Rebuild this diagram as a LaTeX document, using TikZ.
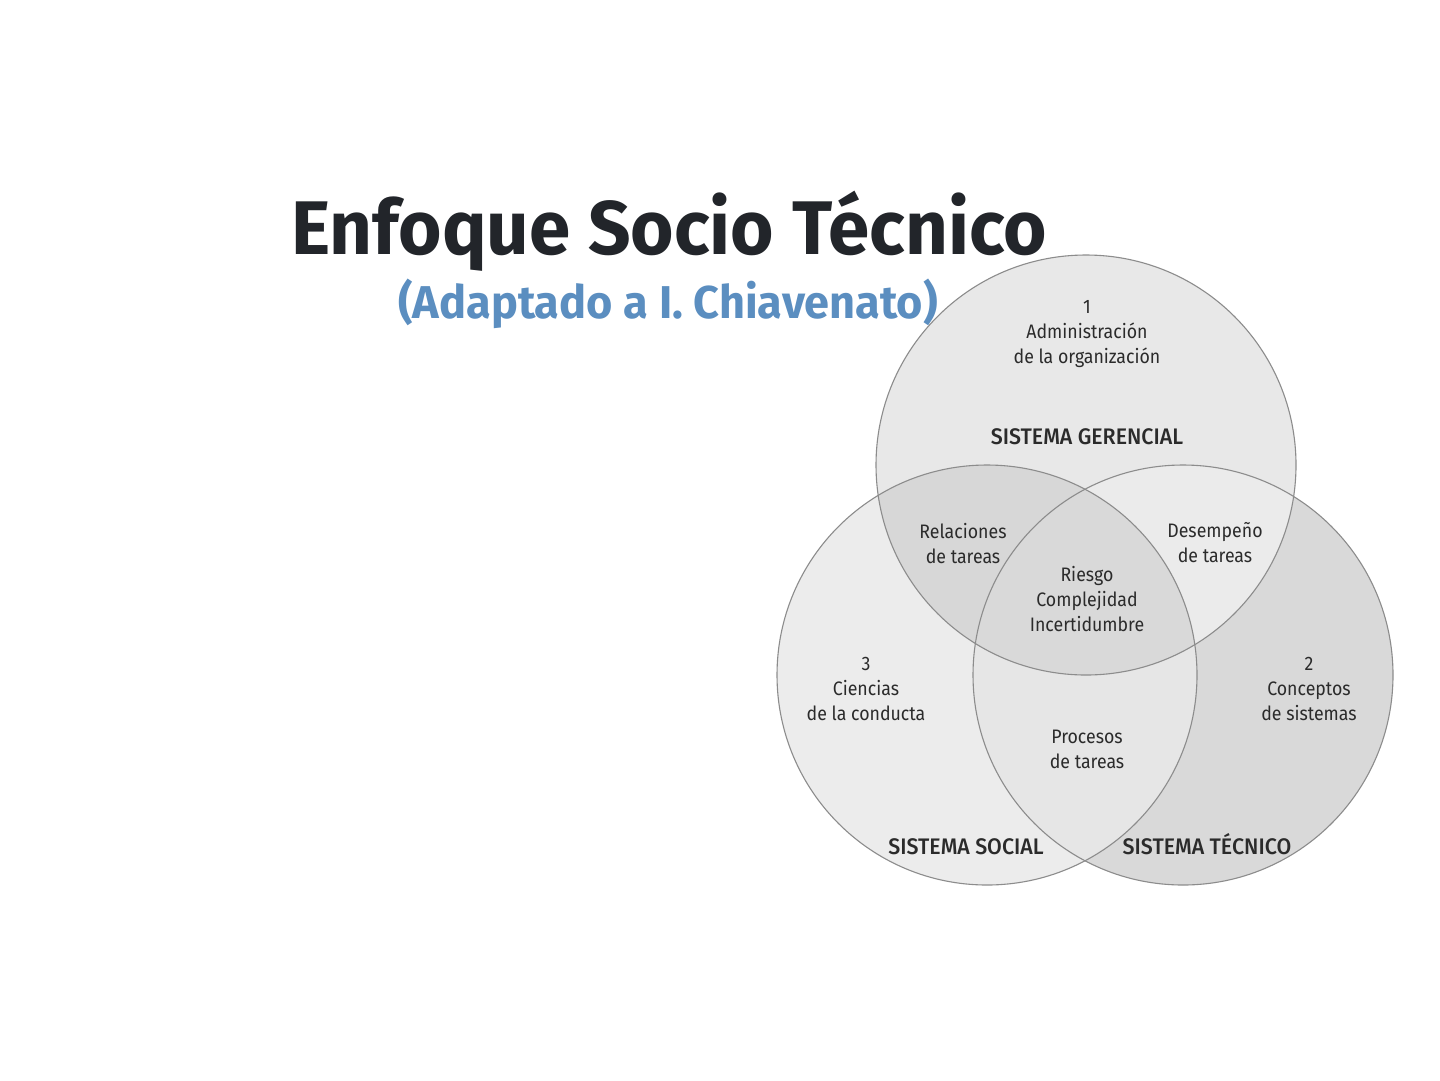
\documentclass[tikz,border=0pt]{standalone}
\usepackage{fontspec}
\setmainfont{Fira Sans}
\newfontfamily\diafont[FakeStretch=0.91]{Fira Sans}
\newfontfamily\capfont[FakeStretch=0.95]{Fira Sans Medium}
\newfontfamily\titlefont[FakeStretch=0.98]{Fira Sans Bold}
\definecolor{ringline}{HTML}{8C8C8C}
\definecolor{topc}{HTML}{E8E8E8}
\definecolor{leftc}{HTML}{ECECEC}
\definecolor{rightc}{HTML}{D9D9D9}
\definecolor{tlc}{HTML}{D7D7D7}
\definecolor{trc}{HTML}{EBEBEB}
\definecolor{lrc}{HTML}{E6E6E6}
\definecolor{allc}{HTML}{D9D9D9}
\definecolor{txt}{HTML}{2B2B2B}
\definecolor{titlec}{HTML}{22252A}
\definecolor{subc}{HTML}{5B8EC0}
\tikzset{
  lbl/.style={font=\diafont\fontsize{19.5}{25}\selectfont, text=txt, align=center, inner sep=0pt},
  caplbl/.style={font=\capfont\fontsize{22.5}{25}\selectfont, text=txt, align=center, inner sep=0pt, anchor=base},
  ring/.style={draw=ringline, line width=1.1pt}
}
\begin{document}
\begin{tikzpicture}[x=1pt,y=-1pt]
\useasboundingbox[fill=white] (0,0) rectangle (1440,1080);
\coordinate (T) at (1086,465);
\coordinate (L) at (987,675);
\coordinate (R) at (1183,675);
% base fills
\fill[rightc] (R) circle[radius=210pt];
\fill[leftc] (L) circle[radius=210pt];
\begin{scope}
  \clip (L) circle[radius=210pt];
  \fill[lrc] (R) circle[radius=210pt];
\end{scope}
\fill[topc] (T) circle[radius=210pt];
\begin{scope}
  \clip (T) circle[radius=210pt];
  \fill[tlc] (L) circle[radius=210pt];
  \fill[trc] (R) circle[radius=210pt];
  \clip (L) circle[radius=210pt];
  \fill[allc] (R) circle[radius=210pt];
\end{scope}
% outlines
\draw[ring] (T) circle[radius=210pt];
\draw[ring] (L) circle[radius=210pt];
\draw[ring] (R) circle[radius=210pt];
% title
\node[font=\titlefont\fontsize{76}{80}\selectfont, text=titlec, inner sep=0pt] (title) at (669,231) {Enfoque Socio Técnico};
\node[font=\titlefont\fontsize{46}{50}\selectfont, text=subc, inner sep=0pt] (subtitle) at (668,304) {(Adaptado a I. Chiavenato)};
% labels
\node[lbl] (admin) at (1087,334) {1\\Administración\\de la organización};
\node[caplbl] (sg) at (1087,444.5) {SISTEMA GERENCIAL};
\node[lbl] (rel) at (963,543) {Relaciones\\de tareas};
\node[lbl] (des) at (1215,543) {Desempeño\\de tareas};
\node[lbl] (rie) at (1087,599) {Riesgo\\Complejidad\\Incertidumbre};
\node[lbl] (cie) at (866,689) {3\\Ciencias\\de la conducta};
\node[lbl] (con) at (1309,689) {2\\Conceptos\\de sistemas};
\node[lbl] (pro) at (1087,749) {Procesos\\de tareas};
\node[caplbl] (ss) at (966,854.5) {SISTEMA SOCIAL};
\node[caplbl] (st) at (1207,854.5) {SISTEMA TÉCNICO};
\end{tikzpicture}
\end{document}
